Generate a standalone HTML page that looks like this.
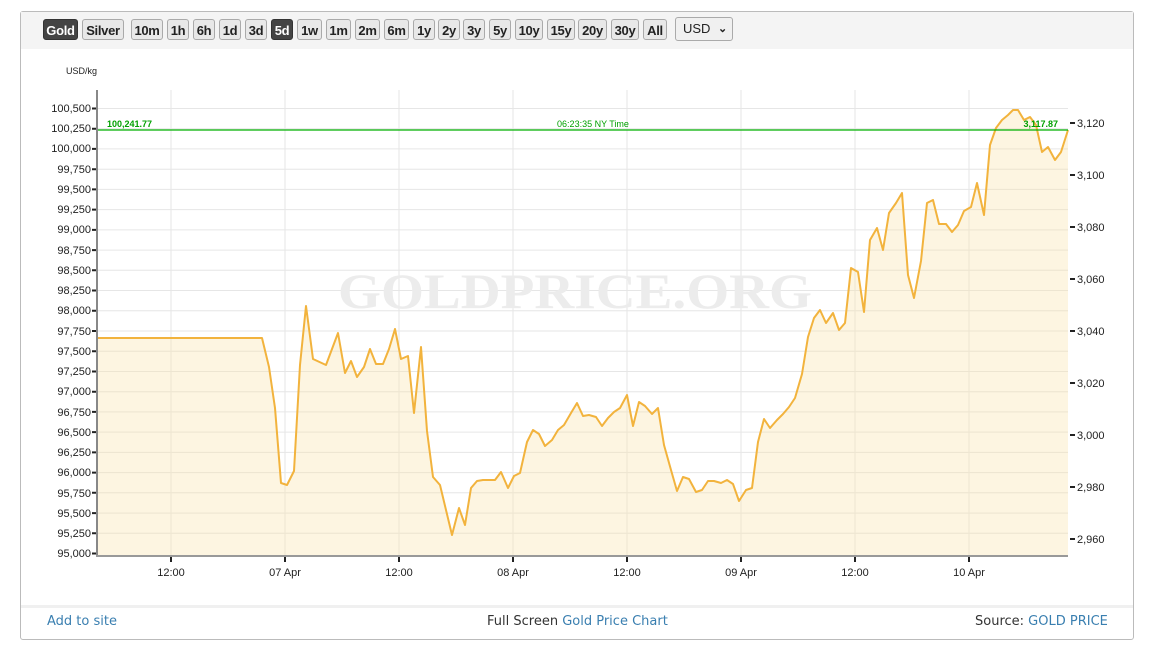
<!DOCTYPE html>
<html><head><meta charset="utf-8"><style>
body{margin:0;background:#fff;width:1151px;height:648px;overflow:hidden;font-family:"Liberation Sans",sans-serif;}
.frame{position:absolute;left:20px;top:11px;width:1112px;height:627px;border:1px solid #bbb;border-radius:3px;}
.bar{position:absolute;left:21px;top:12px;width:1112px;height:37px;background:#f4f4f4;}
.b{position:absolute;top:19px;height:21px;border:1px solid #aaa;border-radius:3px;background:#e8e8e8;font-weight:bold;font-size:13px;line-height:21px;text-align:center;color:#222;box-sizing:border-box;letter-spacing:-0.3px}
.b.on{background:#444;color:#fff;border-color:#333}
.sel{position:absolute;left:675px;top:17px;width:58px;height:24px;border:1px solid #aaa;border-radius:3px;background:#f0f0f0;font-size:13px;line-height:22px;box-sizing:border-box;padding-left:7px;color:#222;white-space:nowrap}
.chev{position:absolute;left:42px;top:0;font-size:11px;font-weight:bold}
.foot{position:absolute;top:614px;color:#333;font-family:"DejaVu Sans","Liberation Sans",sans-serif;font-size:13px}
.foot a{color:#3a7fb0;text-decoration:none}
</style></head><body>
<div class="frame"></div>
<div class="bar"></div>
<div class="b on" style="left:43px;width:35px">Gold</div>
<div class="b" style="left:82px;width:42px">Silver</div>
<div class="b" style="left:131px;width:32px">10m</div>
<div class="b" style="left:167px;width:22px">1h</div>
<div class="b" style="left:193px;width:22px">6h</div>
<div class="b" style="left:219px;width:22px">1d</div>
<div class="b" style="left:245px;width:22px">3d</div>
<div class="b on" style="left:271px;width:22px">5d</div>
<div class="b" style="left:297px;width:25px">1w</div>
<div class="b" style="left:326px;width:25px">1m</div>
<div class="b" style="left:355px;width:25px">2m</div>
<div class="b" style="left:384px;width:25px">6m</div>
<div class="b" style="left:413px;width:22px">1y</div>
<div class="b" style="left:438px;width:22px">2y</div>
<div class="b" style="left:463px;width:22px">3y</div>
<div class="b" style="left:489px;width:22px">5y</div>
<div class="b" style="left:515px;width:28px">10y</div>
<div class="b" style="left:547px;width:28px">15y</div>
<div class="b" style="left:578px;width:29px">20y</div>
<div class="b" style="left:611px;width:28px">30y</div>
<div class="b" style="left:643px;width:24px">All</div>
<div class="sel">USD<span class="chev">&#8964;</span></div>
<div style="position:absolute;left:21px;top:605px;width:1112px;height:3px;background:#f0f0f0"></div>
<div class="foot" style="left:47px"><a>Add to site</a></div>
<div class="foot" style="left:487px">Full Screen <a>Gold Price Chart</a></div>
<div class="foot" style="left:975px">Source: <a>GOLD PRICE</a></div>
<svg style="position:absolute;left:0;top:0" width="1151" height="605" font-family="Liberation Sans, sans-serif">
<text x="66" y="74" font-size="9" fill="#222">USD/kg</text>
<g stroke="#e6e6e6" stroke-width="1">
<line x1="171" y1="90" x2="171" y2="555"/><line x1="285" y1="90" x2="285" y2="555"/><line x1="399" y1="90" x2="399" y2="555"/><line x1="513" y1="90" x2="513" y2="555"/><line x1="627" y1="90" x2="627" y2="555"/><line x1="741" y1="90" x2="741" y2="555"/><line x1="855" y1="90" x2="855" y2="555"/><line x1="969" y1="90" x2="969" y2="555"/>
<line x1="97" y1="108.5" x2="1068" y2="108.5"/><line x1="97" y1="128.7" x2="1068" y2="128.7"/><line x1="97" y1="148.9" x2="1068" y2="148.9"/><line x1="97" y1="169.2" x2="1068" y2="169.2"/><line x1="97" y1="189.4" x2="1068" y2="189.4"/><line x1="97" y1="209.6" x2="1068" y2="209.6"/><line x1="97" y1="229.9" x2="1068" y2="229.9"/><line x1="97" y1="250.1" x2="1068" y2="250.1"/><line x1="97" y1="270.3" x2="1068" y2="270.3"/><line x1="97" y1="290.5" x2="1068" y2="290.5"/><line x1="97" y1="310.8" x2="1068" y2="310.8"/><line x1="97" y1="331" x2="1068" y2="331"/><line x1="97" y1="351.2" x2="1068" y2="351.2"/><line x1="97" y1="371.5" x2="1068" y2="371.5"/><line x1="97" y1="391.7" x2="1068" y2="391.7"/><line x1="97" y1="411.9" x2="1068" y2="411.9"/><line x1="97" y1="432.1" x2="1068" y2="432.1"/><line x1="97" y1="452.4" x2="1068" y2="452.4"/><line x1="97" y1="472.6" x2="1068" y2="472.6"/><line x1="97" y1="492.8" x2="1068" y2="492.8"/><line x1="97" y1="513.1" x2="1068" y2="513.1"/><line x1="97" y1="533.3" x2="1068" y2="533.3"/>
</g>
<text x="575" y="308" font-family="Liberation Serif, serif" font-weight="bold" font-size="50" fill="#ececec" text-anchor="middle" textLength="474" lengthAdjust="spacingAndGlyphs">GOLDPRICE.ORG</text>
<polygon fill="rgba(250,225,170,0.35)" points="97,555 97,338 262,338 269,367 275,408 281,483 287,485 294,471 300,365 306,306 313,359 326,365 338,333 345,373 351,361 357,377 364,367 370,349 376,364 383,364 389,349 395,329 401,359 408,356 414,413 421,347 427,431 433,477 440,485 452,535 459,508 465,525 471,488 477,481 483,480 495,480 501,472 508,488 514,476 520,473 527,442 533,430 539,434 545,446 552,440 558,430 564,425 571,413 577,403 583,416 589,415 596,417 602,426 608,418 614,412 620,408 627,395 633,426 639,402 645,406 652,414 658,408 664,445 671,470 677,491 683,477 689,479 696,492 702,490 708,481 714,481 721,483 727,480 733,484 739,501 746,490 752,488 758,442 764,419 770,428 777,420 783,414 789,407 795,398 802,374 808,337 814,318 820,310 826,323 833,313 839,330 845,323 851,268 858,272 864,312 870,240 877,228 883,250 889,213 896,203 902,193 908,275 914,298 921,261 927,203 933,200 939,224 946,224 952,232 958,225 964,211 971,207 977,183 984,215 990,145 996,128 1002,120 1008,115 1013,110 1018,110 1024,120 1030,117 1036,125 1042,152 1048,147 1055,160 1061,152 1068,130 1068,555"/>
<polyline fill="none" stroke="#f2b33d" stroke-width="2" stroke-linejoin="round" points="97,338 262,338 269,367 275,408 281,483 287,485 294,471 300,365 306,306 313,359 326,365 338,333 345,373 351,361 357,377 364,367 370,349 376,364 383,364 389,349 395,329 401,359 408,356 414,413 421,347 427,431 433,477 440,485 452,535 459,508 465,525 471,488 477,481 483,480 495,480 501,472 508,488 514,476 520,473 527,442 533,430 539,434 545,446 552,440 558,430 564,425 571,413 577,403 583,416 589,415 596,417 602,426 608,418 614,412 620,408 627,395 633,426 639,402 645,406 652,414 658,408 664,445 671,470 677,491 683,477 689,479 696,492 702,490 708,481 714,481 721,483 727,480 733,484 739,501 746,490 752,488 758,442 764,419 770,428 777,420 783,414 789,407 795,398 802,374 808,337 814,318 820,310 826,323 833,313 839,330 845,323 851,268 858,272 864,312 870,240 877,228 883,250 889,213 896,203 902,193 908,275 914,298 921,261 927,203 933,200 939,224 946,224 952,232 958,225 964,211 971,207 977,183 984,215 990,145 996,128 1002,120 1008,115 1013,110 1018,110 1024,120 1030,117 1036,125 1042,152 1048,147 1055,160 1061,152 1068,130"/>
<line x1="97" y1="130" x2="1068" y2="130" stroke="#00b000" stroke-width="1.3"/>
<g font-size="9" font-weight="bold" fill="#00a000">
<text x="107" y="127">100,241.77</text>
<text x="593" y="127" text-anchor="middle" font-weight="normal">06:23:35 NY Time</text>
<text x="1058" y="127" text-anchor="end">3,117.87</text>
</g>
<line x1="97" y1="90" x2="97" y2="556" stroke="#888" stroke-width="2"/>
<line x1="96" y1="556" x2="1068" y2="556" stroke="#999" stroke-width="2"/>
<g font-size="11" fill="#222" text-anchor="end">
<text x="91" y="112">100,500</text><text x="91" y="132">100,250</text><text x="91" y="152">100,000</text><text x="91" y="173">99,750</text><text x="91" y="193">99,500</text><text x="91" y="213">99,250</text><text x="91" y="233">99,000</text><text x="91" y="254">98,750</text><text x="91" y="274">98,500</text><text x="91" y="294">98,250</text><text x="91" y="314">98,000</text><text x="91" y="335">97,750</text><text x="91" y="355">97,500</text><text x="91" y="375">97,250</text><text x="91" y="395">97,000</text><text x="91" y="416">96,750</text><text x="91" y="436">96,500</text><text x="91" y="456">96,250</text><text x="91" y="476">96,000</text><text x="91" y="497">95,750</text><text x="91" y="517">95,500</text><text x="91" y="537">95,250</text><text x="91" y="557">95,000</text>
</g>
<g stroke="#222" stroke-width="2">
<path d="M92 108.5h4M92 128.7h4M92 148.9h4M92 169.2h4M92 189.4h4M92 209.6h4M92 229.9h4M92 250.1h4M92 270.3h4M92 290.5h4M92 310.8h4M92 331h4M92 351.2h4M92 371.5h4M92 391.7h4M92 411.9h4M92 432.1h4M92 452.4h4M92 472.6h4M92 492.8h4M92 513.1h4M92 533.3h4M92 553.5h4"/>
<path d="M1070 123h5M1070 175h5M1070 227h5M1070 279h5M1070 331h5M1070 383h5M1070 435h5M1070 487h5M1070 539h5"/>
<path d="M171 557v5M285 557v5M399 557v5M513 557v5M627 557v5M741 557v5M855 557v5M969 557v5"/>
</g>
<g font-size="11" fill="#222">
<text x="1077" y="127">3,120</text><text x="1077" y="179">3,100</text><text x="1077" y="231">3,080</text><text x="1077" y="283">3,060</text><text x="1077" y="335">3,040</text><text x="1077" y="387">3,020</text><text x="1077" y="439">3,000</text><text x="1077" y="491">2,980</text><text x="1077" y="543">2,960</text>
</g>
<g font-size="11" fill="#222" text-anchor="middle">
<text x="171" y="576">12:00</text><text x="285" y="576">07 Apr</text><text x="399" y="576">12:00</text><text x="513" y="576">08 Apr</text><text x="627" y="576">12:00</text><text x="741" y="576">09 Apr</text><text x="855" y="576">12:00</text><text x="969" y="576">10 Apr</text>
</g>
</svg>
</body></html>
